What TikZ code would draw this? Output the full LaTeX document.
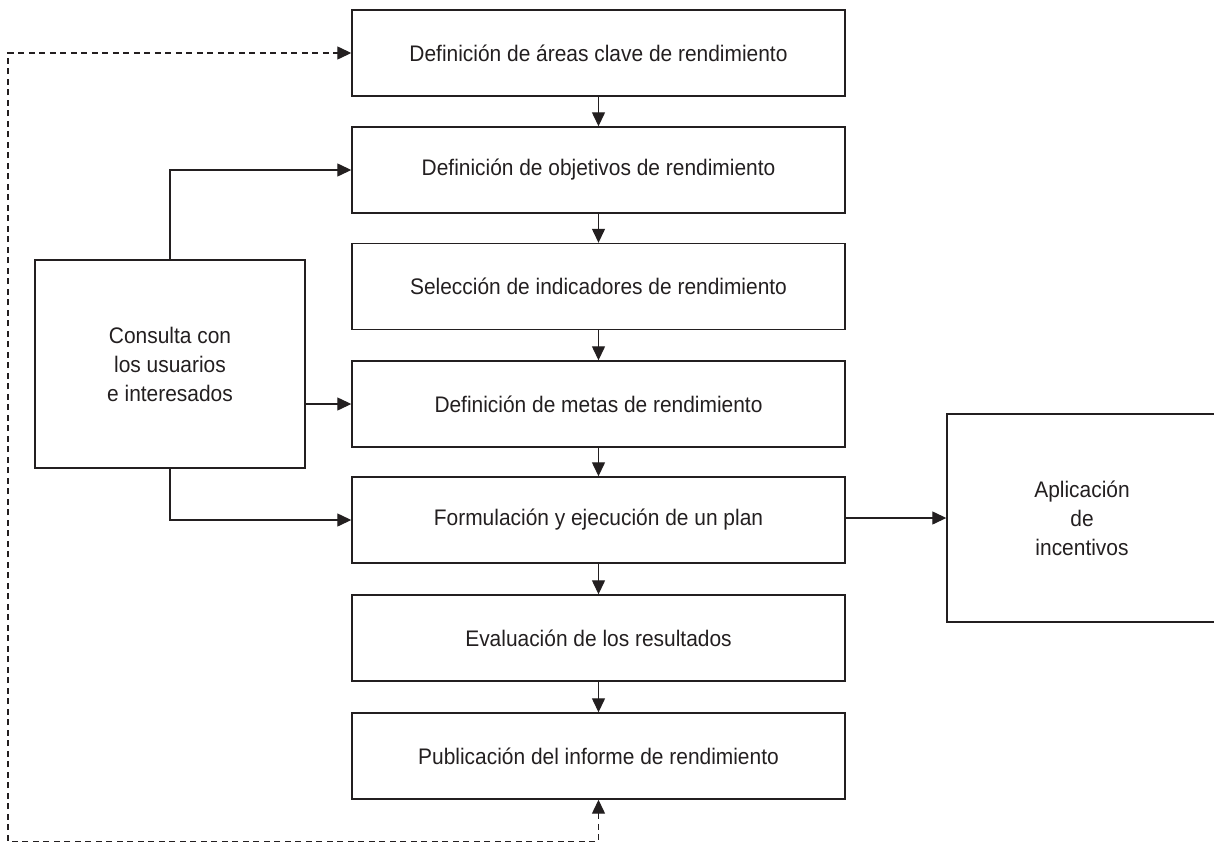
\documentclass[tikz,border=0pt]{standalone}
\usepackage{fontspec}
\setmainfont{Liberation Sans}[FakeStretch=0.93]
\usetikzlibrary{arrows.meta}
\definecolor{ink}{HTML}{231F20}
\begin{document}
\begin{tikzpicture}[x=1pt,y=-1pt,
  font=\fontsize{22.5}{29}\selectfont,
  every node/.style={text=ink},
  stepbox/.style={draw=ink,line width=1.4pt,inner sep=0pt,minimum width=493pt,minimum height=86pt,align=center},
  sidebox/.style={draw=ink,line width=1.4pt,inner sep=0pt,minimum width=270pt,minimum height=208pt,align=center},
  conn/.style={draw=ink,line width=1.3pt,-{Triangle[length=14pt,width=13pt]}},
  fb/.style={draw=ink,line width=1.3pt,dash pattern=on 6pt off 4.5pt,{Triangle[length=14pt,width=13pt]}-{Triangle[length=14pt,width=13pt]}}]
\useasboundingbox (0,0) rectangle (1214,843);
\node[stepbox] (b1) at (598.5,53) {Definición de áreas clave de rendimiento};
\node[stepbox] (b2) at (598.5,170) {Definición de objetivos de rendimiento};
\node[stepbox] (b3) at (598.5,286.5) {Selección de indicadores de rendimiento};
\node[stepbox] (b4) at (598.5,404) {Definición de metas de rendimiento};
\node[stepbox] (b5) at (598.5,520) {Formulación y ejecución de un plan};
\node[stepbox] (b6) at (598.5,638) {Evaluación de los resultados};
\node[stepbox] (b7) at (598.5,756) {Publicación del informe de rendimiento};
\node[sidebox] (cons) at (170,364) {Consulta con\\los usuarios\\e interesados};
\node[sidebox] (apl) at (1082,518) {Aplicación\\de\\incentivos};
\coordinate (lb) at (8,841.5);
\draw[conn] (b1) -- (b2);
\draw[conn] (b2) -- (b3);
\draw[conn] (b3) -- (b4);
\draw[conn] (b4) -- (b5);
\draw[conn] (b5) -- (b6);
\draw[conn] (b6) -- (b7);
\draw[conn] (cons.north) |- (b2.west);
\draw[conn] (cons.east |- b4.west) -- (b4.west);
\draw[conn] (cons.south) |- (b5.west);
\draw[conn] (b5.east |- apl.west) -- (apl.west);
\draw[fb] (b7.south) |- (lb) |- (b1.west);
\end{tikzpicture}
\end{document}
